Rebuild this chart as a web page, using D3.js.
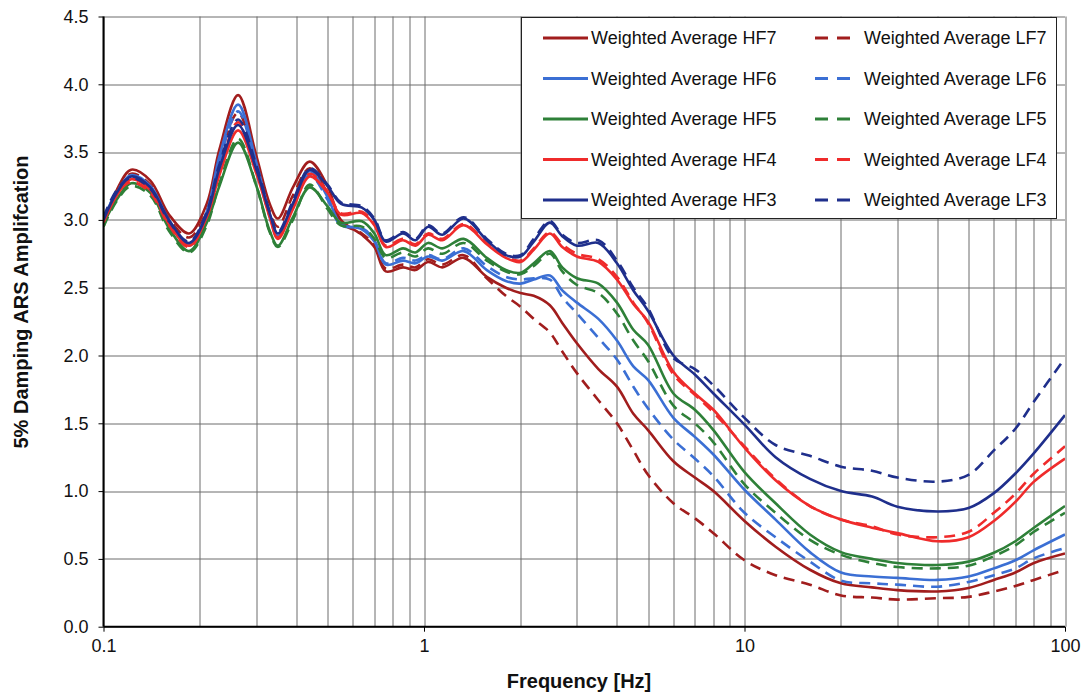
<!DOCTYPE html>
<html>
<head>
<meta charset="utf-8">
<script src="https://cdn.jsdelivr.net/npm/d3@7"></script>
<style>
  body { margin: 0; background: #fff; }
  text { font-family: "Liberation Sans", Arial, sans-serif; fill: #111; }
</style>
</head>
<body>
<svg id="chart" width="1082" height="695"></svg>
<script>
var freq = [0.1, 0.11, 0.122, 0.14, 0.16, 0.185, 0.21, 0.23, 0.263, 0.3, 0.33, 0.35, 0.39, 0.44, 0.5, 0.55,
            0.64, 0.7, 0.76, 0.86, 0.94, 1.03, 1.14, 1.33, 1.57, 1.8, 2.0, 2.2, 2.47, 2.7, 3.0, 3.5, 4.0, 4.5,
            5.0, 6.0, 7.0, 8.0, 10, 12.5, 16, 20, 25, 30, 40, 50, 60, 70, 80, 100];

var hf7 = [2.95, 3.22, 3.37, 3.29, 3.04, 2.90, 3.12, 3.52, 3.92, 3.47, 3.12, 3.01, 3.24, 3.43, 3.25, 3.00,
           2.89, 2.80, 2.62, 2.65, 2.63, 2.69, 2.65, 2.72, 2.58, 2.50, 2.46, 2.44, 2.37, 2.24, 2.09, 1.90, 1.77, 1.57,
           1.45, 1.22, 1.10, 1.00, 0.78, 0.59, 0.42, 0.32, 0.29, 0.27, 0.26, 0.285, 0.345, 0.40, 0.47, 0.54];
var lf7 = [2.98, 3.20, 3.34, 3.26, 3.01, 2.87, 3.07, 3.45, 3.79, 3.38, 3.06, 2.95, 3.18, 3.38, 3.20, 2.98,
           2.90, 2.81, 2.64, 2.67, 2.65, 2.71, 2.67, 2.74, 2.57, 2.44, 2.36, 2.27, 2.17, 2.03, 1.87, 1.67, 1.50, 1.30,
           1.12, 0.91, 0.80, 0.69, 0.49, 0.38, 0.31, 0.23, 0.215, 0.20, 0.21, 0.22, 0.26, 0.30, 0.345, 0.42];
var hf6 = [3.02, 3.20, 3.33, 3.25, 3.00, 2.82, 3.06, 3.47, 3.85, 3.42, 3.04, 2.88, 3.12, 3.36, 3.17, 2.97,
           2.93, 2.84, 2.67, 2.70, 2.68, 2.73, 2.70, 2.77, 2.63, 2.55, 2.53, 2.56, 2.59, 2.48, 2.39, 2.27, 2.11, 1.92,
           1.82, 1.54, 1.40, 1.27, 1.01, 0.79, 0.55, 0.40, 0.37, 0.36, 0.345, 0.37, 0.43, 0.49, 0.565, 0.68];
var lf6 = [3.00, 3.21, 3.31, 3.23, 2.98, 2.81, 3.03, 3.43, 3.80, 3.38, 3.02, 2.87, 3.10, 3.33, 3.15, 2.96,
           2.94, 2.85, 2.68, 2.72, 2.70, 2.74, 2.71, 2.79, 2.66, 2.58, 2.56, 2.57, 2.56, 2.43, 2.31, 2.13, 1.97, 1.77,
           1.61, 1.38, 1.24, 1.11, 0.84, 0.66, 0.48, 0.34, 0.32, 0.31, 0.295, 0.33, 0.38, 0.43, 0.505, 0.58];
var hf5 = [2.97, 3.15, 3.27, 3.20, 2.94, 2.77, 2.98, 3.25, 3.57, 3.25, 2.92, 2.81, 3.02, 3.24, 3.10, 2.98,
           2.99, 2.90, 2.74, 2.79, 2.76, 2.83, 2.79, 2.86, 2.72, 2.63, 2.61, 2.68, 2.77, 2.65, 2.57, 2.53, 2.39, 2.19,
           2.08, 1.72, 1.60, 1.45, 1.14, 0.91, 0.68, 0.55, 0.50, 0.47, 0.455, 0.48, 0.545, 0.63, 0.73, 0.89];
var lf5 = [2.95, 3.14, 3.25, 3.18, 2.92, 2.76, 2.96, 3.27, 3.60, 3.25, 2.91, 2.80, 3.00, 3.26, 3.08, 2.96,
           2.95, 2.86, 2.72, 2.76, 2.73, 2.79, 2.75, 2.83, 2.70, 2.62, 2.60, 2.66, 2.75, 2.62, 2.52, 2.46, 2.31, 2.11,
           1.96, 1.63, 1.50, 1.36, 1.05, 0.84, 0.64, 0.53, 0.47, 0.44, 0.43, 0.45, 0.52, 0.60, 0.70, 0.84];
var hf4 = [2.98, 3.18, 3.30, 3.22, 2.97, 2.81, 3.02, 3.33, 3.66, 3.34, 3.02, 2.86, 3.08, 3.32, 3.20, 3.04,
           3.05, 2.96, 2.80, 2.85, 2.81, 2.89, 2.85, 2.96, 2.82, 2.72, 2.69, 2.78, 2.90, 2.80, 2.73, 2.69, 2.56, 2.38,
           2.25, 1.88, 1.72, 1.60, 1.32, 1.08, 0.89, 0.79, 0.73, 0.69, 0.63, 0.66, 0.78, 0.92, 1.07, 1.24];
var lf4 = [3.00, 3.19, 3.28, 3.20, 2.96, 2.80, 3.03, 3.37, 3.72, 3.37, 3.03, 2.87, 3.10, 3.34, 3.21, 3.05,
           3.06, 2.97, 2.81, 2.86, 2.82, 2.90, 2.86, 2.97, 2.83, 2.73, 2.70, 2.79, 2.91, 2.82, 2.75, 2.71, 2.58, 2.39,
           2.24, 1.86, 1.71, 1.58, 1.33, 1.09, 0.89, 0.79, 0.74, 0.68, 0.66, 0.70, 0.84, 0.98, 1.13, 1.33];
var hf3 = [3.00, 3.20, 3.32, 3.24, 3.00, 2.83, 3.04, 3.38, 3.70, 3.37, 3.05, 2.90, 3.12, 3.37, 3.25, 3.12,
           3.09, 3.00, 2.84, 2.90, 2.85, 2.95, 2.89, 3.01, 2.85, 2.74, 2.73, 2.84, 2.98, 2.88, 2.81, 2.83, 2.68, 2.48,
           2.33, 2.00, 1.86, 1.72, 1.49, 1.25, 1.09, 1.00, 0.96, 0.885, 0.85, 0.875, 0.985, 1.13, 1.28, 1.56];
var lf3 = [3.02, 3.22, 3.31, 3.23, 2.99, 2.84, 3.06, 3.41, 3.74, 3.40, 3.06, 2.91, 3.14, 3.38, 3.26, 3.13,
           3.10, 3.01, 2.85, 2.91, 2.86, 2.96, 2.90, 3.02, 2.86, 2.75, 2.74, 2.86, 2.99, 2.89, 2.83, 2.85, 2.70, 2.50,
           2.35, 1.98, 1.90, 1.78, 1.54, 1.34, 1.26, 1.18, 1.15, 1.10, 1.07, 1.12, 1.30, 1.46, 1.66, 1.98];

var yTicks = [0, 0.5, 1, 1.5, 2, 2.5, 3, 3.5, 4, 4.5];
var xTickLabels = [0.1, 1, 10, 100];

var series = [
    {name: "Weighted Average HF7", values: hf7, color: "#a11d1d", dashed: false},
    {name: "Weighted Average LF7", values: lf7, color: "#a11d1d", dashed: true},
    {name: "Weighted Average HF6", values: hf6, color: "#3b6fd4", dashed: false},
    {name: "Weighted Average LF6", values: lf6, color: "#3b6fd4", dashed: true},
    {name: "Weighted Average HF5", values: hf5, color: "#2e8038", dashed: false},
    {name: "Weighted Average LF5", values: lf5, color: "#2e8038", dashed: true},
    {name: "Weighted Average HF4", values: hf4, color: "#ef2b2b", dashed: false},
    {name: "Weighted Average LF4", values: lf4, color: "#ef2b2b", dashed: true},
    {name: "Weighted Average HF3", values: hf3, color: "#1f2f8c", dashed: false},
    {name: "Weighted Average LF3", values: lf3, color: "#1f2f8c", dashed: true}
];

var margin = {top: 16.5, right: 17, bottom: 68.3, left: 103.5};
var width = 1082 - margin.left - margin.right;
var height = 695 - margin.top - margin.bottom;

var svg = d3.select("#chart")
    .append("g")
    .attr("transform", "translate(" + margin.left + "," + margin.top + ")");

var x = d3.scaleLog().domain([0.1, 100]).range([0, width]);
var y = d3.scaleLinear().domain([0, 4.5]).range([height, 0]);

// grid
svg.append("g").selectAll("line")
    .data(x.ticks())
    .enter().append("line")
    .attr("x1", function(d) { return Math.round(x(d)) + 0.5; })
    .attr("x2", function(d) { return Math.round(x(d)) + 0.5; })
    .attr("y1", 0).attr("y2", height)
    .attr("stroke", "#6c6c6c").attr("stroke-width", 1);

svg.append("g").selectAll("line")
    .data(yTicks)
    .enter().append("line")
    .attr("x1", 0).attr("x2", width)
    .attr("y1", function(d) { return Math.round(y(d)) + 0.5; })
    .attr("y2", function(d) { return Math.round(y(d)) + 0.5; })
    .attr("stroke", "#6c6c6c").attr("stroke-width", 1);

// axes
var yAxis = d3.axisLeft(y).tickValues(yTicks).tickFormat(d3.format(".1f")).tickSize(5).tickPadding(10);
var xAxis = d3.axisBottom(x).tickValues(xTickLabels).tickFormat(function(d) { return d; }).tickSize(5).tickPadding(8);

svg.append("g").call(yAxis)
    .call(function(g) { g.select(".domain").remove(); })
    .selectAll("text").style("font-size", "18px").attr("fill", "#111");
svg.append("g").attr("transform", "translate(0," + height + ")").call(xAxis)
    .call(function(g) { g.select(".domain").remove(); })
    .selectAll("text").style("font-size", "18px").attr("fill", "#111");

// curves
svg.append("clipPath").attr("id", "plotclip")
    .append("rect").attr("width", width).attr("height", height);

var line = d3.line()
    .x(function(d) { return x(d[0]); })
    .y(function(d) { return y(d[1]); })
    .curve(d3.curveCatmullRom.alpha(0.5));

svg.append("g").attr("clip-path", "url(#plotclip)")
    .selectAll("path")
    .data(series)
    .enter().append("path")
    .attr("d", function(s) { return line(freq.map(function(f, i) { return [f, s.values[i]]; })); })
    .attr("fill", "none")
    .attr("stroke", function(s) { return s.color; })
    .attr("stroke-width", 2.6)
    .attr("stroke-dasharray", function(s) { return s.dashed ? "11,7" : null; });

// axis lines
svg.append("line").attr("x1", 0).attr("x2", 0).attr("y1", 0).attr("y2", height)
    .attr("stroke", "#000").attr("stroke-width", 2);
svg.append("line").attr("x1", 0).attr("x2", width).attr("y1", height).attr("y2", height)
    .attr("stroke", "#000").attr("stroke-width", 2);

// legend
var legend = d3.select("#chart").append("g");
legend.append("rect")
    .attr("x", 521.5).attr("y", 17.5).attr("width", 535).attr("height", 201)
    .attr("fill", "#fff").attr("stroke", "#222").attr("stroke-width", 1);

var rows = legend.selectAll("g.item")
    .data(series)
    .enter().append("g")
    .attr("class", "item")
    .attr("transform", function(s, i) {
        var col = i % 2, row = Math.floor(i / 2);
        return "translate(" + (col === 0 ? 543 : 815) + "," + (38 + row * 40.5) + ")";
    });

rows.append("line")
    .attr("x1", 0)
    .attr("x2", function(s) { return s.dashed ? 35 : 45; })
    .attr("stroke", function(s) { return s.color; })
    .attr("stroke-width", 2.8)
    .attr("stroke-dasharray", function(s) { return s.dashed ? "13,9" : null; });

rows.append("text")
    .attr("x", function(s) { return s.dashed ? 49 : 48; })
    .attr("dy", "0.36em")
    .style("font-size", "18px")
    .text(function(s) { return s.name; });

// axis titles
d3.select("#chart").append("text")
    .attr("x", 579).attr("y", 688)
    .attr("text-anchor", "middle")
    .style("font-size", "20px").style("font-weight", "bold")
    .text("Frequency [Hz]");

d3.select("#chart").append("text")
    .attr("transform", "translate(28,302) rotate(-90)")
    .attr("text-anchor", "middle")
    .style("font-size", "20px").style("font-weight", "bold")
    .text("5% Damping ARS Amplifcation");
</script>
</body>
</html>
